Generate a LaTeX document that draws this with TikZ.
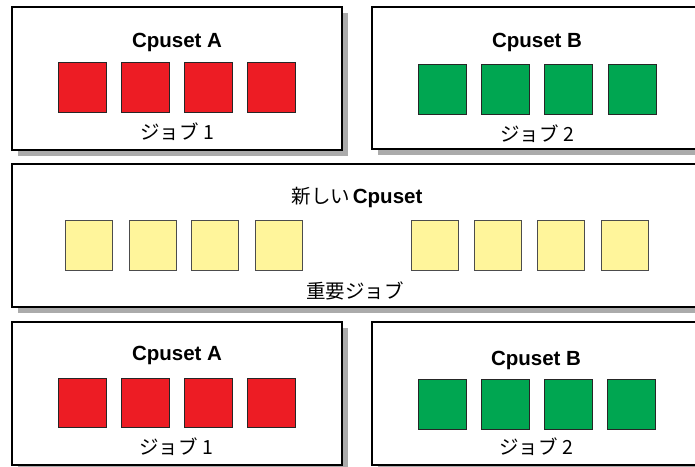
\documentclass[tikz,border=0pt]{standalone}
\usepackage{fontspec}
\setmainfont{Liberation Sans}
\newfontfamily\jpfont{Noto Sans CJK JP}
\usetikzlibrary{shadows}
\definecolor{cpred}{HTML}{ED1C24}
\definecolor{cpgreen}{HTML}{00A651}
\definecolor{cpyellow}{HTML}{FFF59B}
\definecolor{shadowgray}{HTML}{ABABAB}
\tikzset{
  setbox/.style={draw=black, line width=1.3pt, fill=white, inner sep=0pt,
    drop shadow={shadow xshift=6pt, shadow yshift=-6pt, fill=shadowgray, opacity=1}},
  cpu/.style={draw=black!85, line width=1pt, inner sep=0pt, minimum width=48pt, minimum height=50pt},
  redcpu/.style={cpu, fill=cpred},
  greencpu/.style={cpu, fill=cpgreen},
  yellowcpu/.style={cpu, fill=cpyellow, draw=black!70, minimum width=47pt},
  title/.style={font=\fontsize{20.5}{24}\selectfont\bfseries, inner sep=0pt},
  jlabel/.style={font=\fontsize{19.5}{24}\selectfont\jpfont, inner sep=0pt}
}
\begin{document}
\begin{tikzpicture}[x=1pt, y=-1pt]
\useasboundingbox (0,0) rectangle (695,466);
\clip (0,0) rectangle (695,466);
% boxes
\node[setbox, minimum width=330pt, minimum height=143pt] (tl) at (177,78.5) {};
\node[setbox, minimum width=328pt, minimum height=142pt] (tr) at (536,78) {};
\node[setbox, minimum width=688pt, minimum height=143pt] (mid) at (356,235.5) {};
\node[setbox, minimum width=330pt, minimum height=143pt] (bl) at (177,393.5) {};
\node[setbox, minimum width=328pt, minimum height=143pt] (br) at (536,393.5) {};
% top-left
\node[title] (tlt) at (177,42) {Cpuset A};
\foreach \x [count=\i] in {82,145,208,271.5} \node[redcpu] (tl\i) at (\x,87) {};
\node[jlabel] (tlj) at (177,132) {ジョブ 1};
% top-right
\node[title] (trt) at (537,42) {Cpuset B};
\foreach \x [count=\i] in {442,505,568.5,632} \node[greencpu] (tr\i) at (\x,89.5) {};
\node[jlabel] (trj) at (537,134) {ジョブ 2};
% middle
\node[inner sep=0pt] (midt) at (357,197) {{\fontsize{19.5}{24}\selectfont\jpfont 新しい} {\fontsize{20.5}{24}\selectfont\bfseries Cpuset}};
\foreach \x [count=\i] in {89,152.5,215,278.5,435,498,561,624.5} \node[yellowcpu] (m\i) at (\x,245) {};
\node[jlabel] (midj) at (355,291) {重要ジョブ};
% bottom-left
\node[title] (blt) at (177,355) {Cpuset A};
\foreach \x [count=\i] in {82,145,208.5,271.5} \node[redcpu, minimum height=49pt] (bl\i) at (\x,402.5) {};
\node[jlabel] (blj) at (176,447) {ジョブ 1};
% bottom-right
\node[title] (brt) at (536,360) {Cpuset B};
\foreach \x [count=\i] in {442,505.5,568.5,631.5} \node[greencpu] (br\i) at (\x,404) {};
\node[jlabel] (brj) at (536,447) {ジョブ 2};
\end{tikzpicture}
\end{document}
